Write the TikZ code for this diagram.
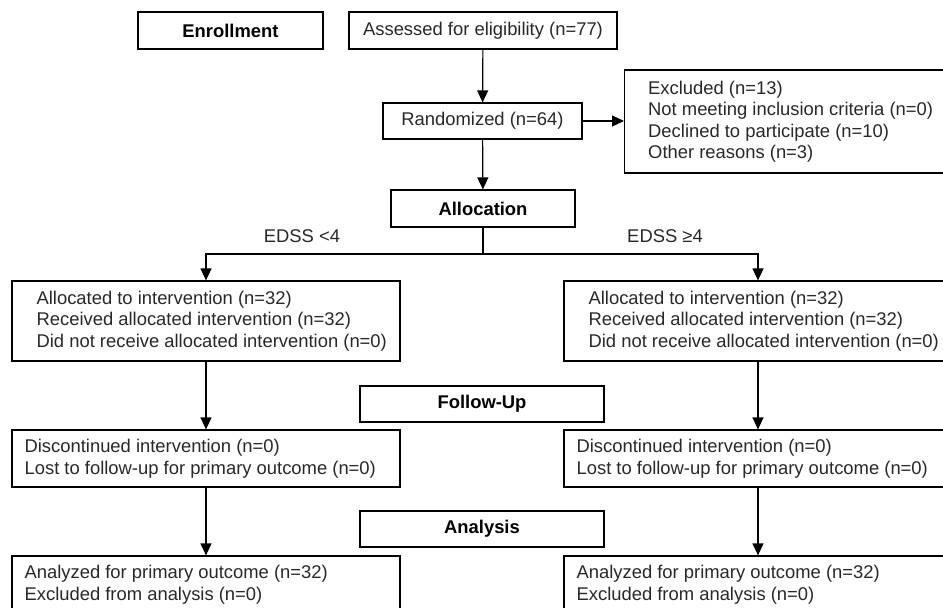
\documentclass[tikz,border=0pt]{standalone}
\usepackage{fontspec}
\setmainfont{Liberation Sans}
\usetikzlibrary{arrows.meta}
\definecolor{txtc}{RGB}{40,40,40}
\begin{document}
\begin{tikzpicture}[x=1pt,y=-1pt,
  box/.style={draw=black,line width=1.2pt,rectangle,inner sep=0pt},
  txt/.style={font=\fontsize{18.4}{21.5}\selectfont,text=txtc,align=left,inner sep=0pt},
  hdr/.style={font=\fontsize{18.4}{21.5}\selectfont\bfseries,text=black},
  arr/.style={draw=black,line width=1.2pt,-{Triangle[length=12pt,width=11pt]}},
  ln/.style={draw=black,line width=1.2pt}]
\useasboundingbox (0,0) rectangle (943,608);
\clip (0,0) rectangle (943,608);

\node[box,hdr,minimum width=185pt,minimum height=37pt] (enr) at (230.5,30.5) {Enrollment};
\node[box,txt,minimum width=268pt,minimum height=37pt] (ass) at (483,30.5) {Assessed for eligibility (n=77)};
\node[box,txt,minimum width=199pt,minimum height=36pt] (rand) at (482.5,121) {Randomized (n=64)};
\node[box,minimum width=330pt,minimum height=103pt,anchor=west] (excl) at (624,121.5) {};
\node[txt,anchor=west] (exclt) at ([xshift=24pt]excl.west) {Excluded (n=13)\\Not meeting inclusion criteria (n=0)\\Declined to participate (n=10)\\Other reasons (n=3)};
\node[box,hdr,minimum width=184pt,minimum height=37pt] (alloc) at (483,208.5) {Allocation};
\node[txt] (edl) at (302,236) {EDSS <4};
\node[txt] (edr) at (665,236) {EDSS ≥4};
\coordinate (split) at (483,254);

\node[box,minimum width=388pt,minimum height=80pt] (la) at (206,321) {};
\node[txt,anchor=west] (lat) at ([xshift=25pt]la.west) {Allocated to intervention (n=32)\\Received allocated intervention (n=32)\\Did not receive allocated intervention (n=0)};
\node[box,minimum width=388pt,minimum height=80pt] (ra) at (758,321) {};
\node[txt,anchor=west] (rat) at ([xshift=25pt]ra.west) {Allocated to intervention (n=32)\\Received allocated intervention (n=32)\\Did not receive allocated intervention (n=0)};

\node[box,hdr,minimum width=244pt,minimum height=36pt] (fu) at (482,404) {Follow-Up};
\node[box,minimum width=388pt,minimum height=57pt] (ld) at (206,458.5) {};
\node[txt,anchor=west] (ldt) at ([xshift=13pt]ld.west) {Discontinued intervention (n=0)\\Lost to follow-up for primary outcome (n=0)};
\node[box,minimum width=388pt,minimum height=57pt] (rd) at (758,458.5) {};
\node[txt,anchor=west] (rdt) at ([xshift=13pt]rd.west) {Discontinued intervention (n=0)\\Lost to follow-up for primary outcome (n=0)};

\node[box,hdr,minimum width=244pt,minimum height=36pt] (an) at (482,529) {Analysis};
\node[box,minimum width=388pt,minimum height=57pt] (lz) at (206,584.5) {};
\node[txt,anchor=west] (lzt) at ([xshift=13pt]lz.west) {Analyzed for primary outcome (n=32)\\Excluded from analysis (n=0)};
\node[box,minimum width=388pt,minimum height=57pt] (rz) at (758,584.5) {};
\node[txt,anchor=west] (rzt) at ([xshift=13pt]rz.west) {Analyzed for primary outcome (n=32)\\Excluded from analysis (n=0)};

\draw[arr] (ass) -- (rand);
\draw[arr] (rand.east) -- (rand.east -| excl.west);
\draw[arr] (rand) -- (alloc);
\draw[ln] (alloc.south) -- (split);
\draw[arr] (split) -| (la.north);
\draw[arr] (split) -| (ra.north);
\draw[arr] (la) -- (ld);
\draw[arr] (ld) -- (lz);
\draw[arr] (ra) -- (rd);
\draw[arr] (rd) -- (rz);
\end{tikzpicture}
\end{document}
